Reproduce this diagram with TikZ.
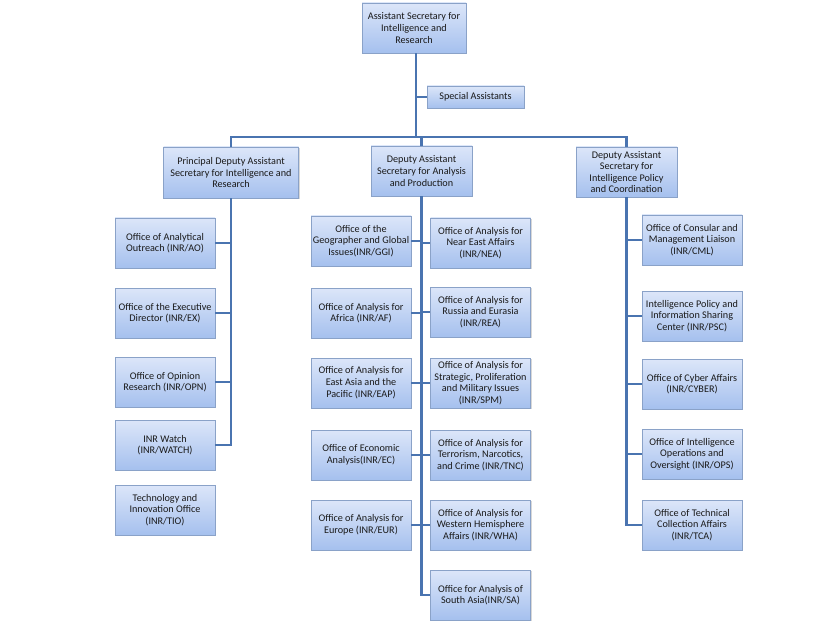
\documentclass[tikz,border=0pt]{standalone}
\usepackage{fontspec}
\setmainfont{Carlito}
\usetikzlibrary{shadows}
\definecolor{boxtop}{HTML}{DCE6F9}
\definecolor{boxbot}{HTML}{A5C0EE}
\definecolor{boxline}{HTML}{8AA2C8}
\definecolor{conn}{HTML}{4A74B0}
\definecolor{txt}{HTML}{1A1A1A}
\tikzset{
  orgbox/.style={rectangle, draw=boxline, line width=0.6pt, top color=boxtop, bottom color=boxbot,
    align=center, text=txt, font=\fontsize{10.2}{11.6}\selectfont, inner sep=1pt,
    minimum width=100pt, minimum height=50pt,
    drop shadow={shadow xshift=1.2pt, shadow yshift=-1.2pt, opacity=0.25, fill=black!60}},
  link/.style={draw=conn, line width=2.6pt}
}
\begin{document}
\begin{tikzpicture}[x=1pt,y=-1pt]
\useasboundingbox (0,0) rectangle (840,628);
\fill[white] (0,0) rectangle (840,628);
\coordinate (bus) at (416,137);
% nodes
\node[orgbox, minimum width=104pt] (top) at (414,28) {Assistant Secretary for\\Intelligence and\\Research};
\node[orgbox, minimum width=97pt, minimum height=22pt] (sa) at (475.5,97) {Special Assistants};
\node[orgbox, minimum width=135pt, minimum height=51pt] (pdas) at (231,172.5) {Principal Deputy Assistant\\Secretary for Intelligence and\\Research};
\node[orgbox, minimum width=101pt] (dap) at (421.5,171) {Deputy Assistant\\Secretary for Analysis\\and Production};
\node[orgbox, minimum width=101pt] (dpol) at (626.5,172) {Deputy Assistant\\Secretary for\\Intelligence Policy\\and Coordination};
% left column
\node[orgbox] (ao) at (165,243) {Office of Analytical\\Outreach (INR/AO)};
\node[orgbox] (ex) at (165,313) {Office of the Executive\\Director (INR/EX)};
\node[orgbox] (opn) at (165,382) {Office of Opinion\\Research (INR/OPN)};
\node[orgbox] (watch) at (165,445) {INR Watch\\(INR/WATCH)};
\node[orgbox] (tio) at (165,510) {Technology and\\Innovation Office\\(INR/TIO)};
% middle left
\node[orgbox] (ggi) at (361,241) {Office of the\\Geographer and Global\\Issues(INR/GGI)};
\node[orgbox] (af) at (361,313) {Office of Analysis for\\Africa (INR/AF)};
\node[orgbox] (eap) at (361,383) {Office of Analysis for\\East Asia and the\\[1pt]Pacific (INR/EAP)};
\node[orgbox] (ec) at (361,455) {Office of Economic\\Analysis(INR/EC)};
\node[orgbox] (eur) at (361,525) {Office of Analysis for\\Europe (INR/EUR)};
% middle right
\node[orgbox] (nea) at (480.5,243) {Office of Analysis for\\Near East Affairs\\(INR/NEA)};
\node[orgbox] (rea) at (480.5,312) {Office of Analysis for\\Russia and Eurasia\\(INR/REA)};
\node[orgbox] (spm) at (480.5,383) {Office of Analysis for\\Strategic, Proliferation\\and Military Issues\\(INR/SPM)};
\node[orgbox] (tnc) at (480.5,455) {Office of Analysis for\\Terrorism, Narcotics,\\and Crime (INR/TNC)};
\node[orgbox] (wha) at (480.5,525) {Office of Analysis for\\Western Hemisphere\\Affairs (INR/WHA)};
\node[orgbox] (sas) at (480.5,595) {Office for Analysis of\\South Asia(INR/SA)};
% right column
\node[orgbox] (cml) at (692,240) {Office of Consular and\\Management Liaison\\(INR/CML)};
\node[orgbox] (psc) at (692,316) {Intelligence Policy and\\Information Sharing\\Center (INR/PSC)};
\node[orgbox] (cyber) at (692,384) {Office of Cyber Affairs\\(INR/CYBER)};
\node[orgbox] (ops) at (692,454) {Office of Intelligence\\Operations and\\Oversight (INR/OPS)};
\node[orgbox] (tca) at (692,525) {Office of Technical\\Collection Affairs\\(INR/TCA)};
% connectors
\path[link] (top.south -| bus) -- (bus);
\path[link] (top.south -| bus) |- (sa.west);
\path[link] (pdas.north) -- (pdas.north |- bus) -- (dpol.north |- bus) -- (dpol.north);
\path[link] (dap.north) -- (dap.north |- bus);
\path[link] (pdas.south) -- (pdas.south |- watch.east) -- (watch.east);
\foreach \n in {ao,ex,opn} \path[link] (pdas.south |- \n.east) -- (\n.east);
\path[link] (dap.south) -- (dap.south |- sas.west) -- (sas.west);
\foreach \n in {ggi,af,eap,ec,eur} \path[link] (dap.south |- \n.east) -- (\n.east);
\foreach \n in {nea,rea,spm,tnc,wha} \path[link] (dap.south |- \n.west) -- (\n.west);
\path[link] (dpol.south) -- (dpol.south |- tca.west) -- (tca.west);
\foreach \n in {cml,psc,cyber,ops} \path[link] (dpol.south |- \n.west) -- (\n.west);
\end{tikzpicture}
\end{document}
